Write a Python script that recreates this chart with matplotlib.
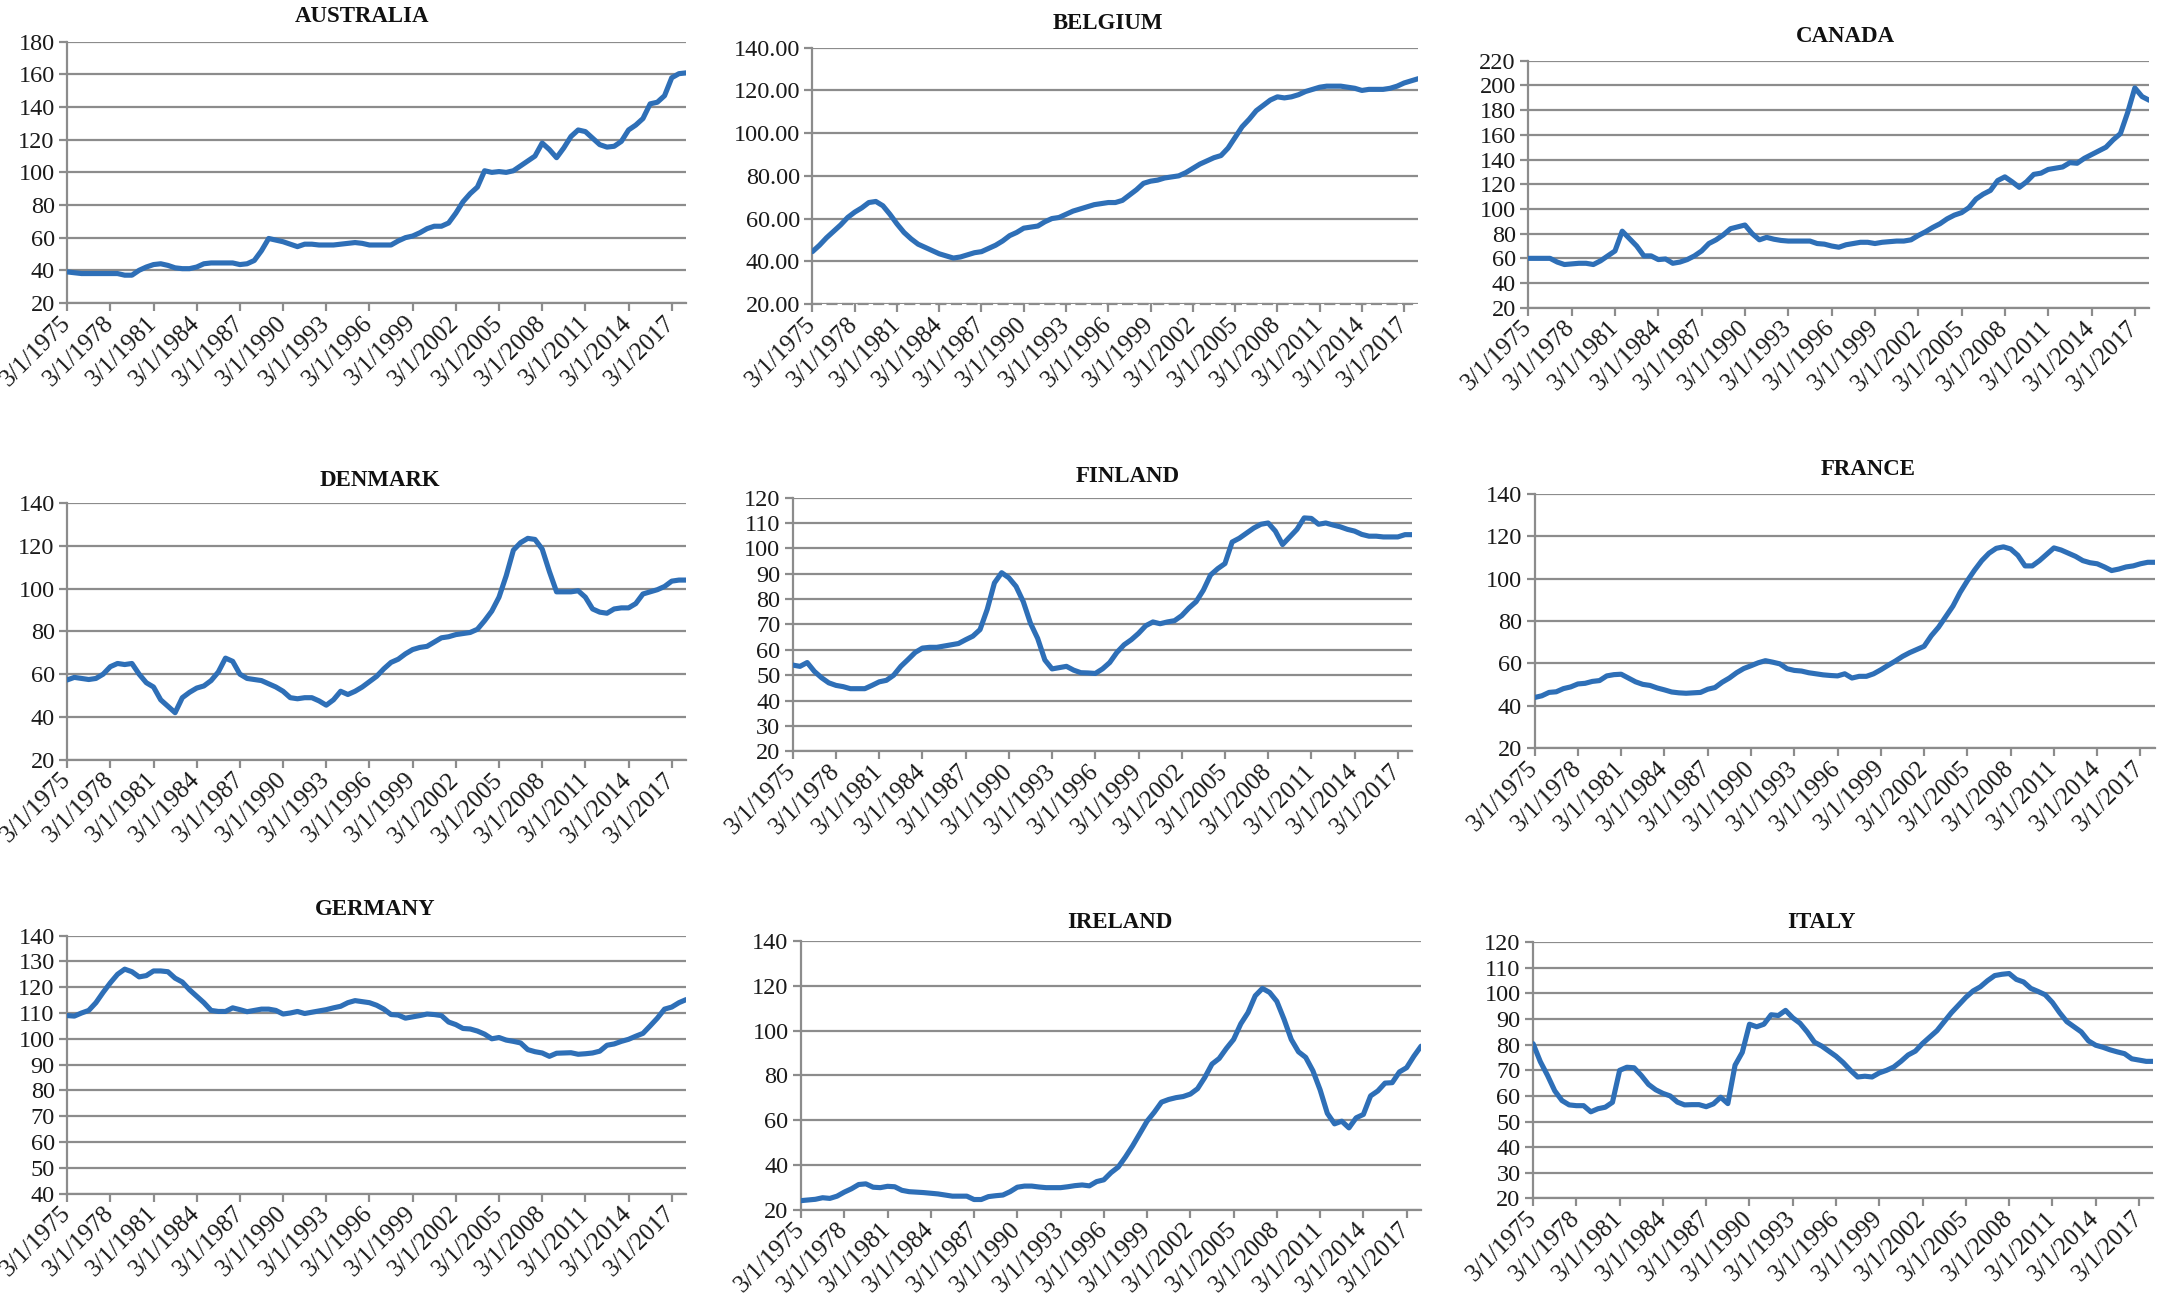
import matplotlib.pyplot as plt
import numpy as np

plt.rcParams['font.family'] = ['Liberation Serif', 'DejaVu Serif']

# semi-annual readings (March / September) from 1975 to March 2018
half_years = np.arange(1975, 2018.01, 0.5)

australia = [39, 38.5, 38, 38, 38, 38, 38, 38, 37, 37,
             40, 42, 43.5, 44, 43, 41.5, 41, 41, 42, 44,
             44.5, 44.5, 44.5, 44.5, 43.5, 44, 46, 52, 59.5, 58.5,
             57.5, 56, 54.5, 56, 56, 55.5, 55.5, 55.5, 56, 56.5,
             57, 56.5, 55.5, 55.5, 55.5, 55.5, 58, 60, 61, 63,
             65.5, 67, 67, 69, 75, 82, 87, 91, 101, 100,
             100.5, 100, 101, 104, 107, 110, 118, 114, 109, 115,
             122, 126, 125, 121, 117, 115.5, 116, 119, 126, 129,
             133, 142, 143, 147, 158, 160.5, 161]

belgium = [44.5, 47.5, 51, 54, 57, 60.5, 63, 65, 67.5, 68,
           66, 62, 57.5, 53.5, 50.5, 48, 46.5, 45, 43.5, 42.5,
           41.5, 42, 43, 44, 44.5, 46, 47.5, 49.5, 52, 53.5,
           55.5, 56, 56.5, 58.5, 60, 60.5, 62, 63.5, 64.5, 65.5,
           66.5, 67, 67.5, 67.5, 68.5, 71, 73.5, 76.5, 77.5, 78,
           79, 79.5, 80, 81.5, 83.5, 85.5, 87, 88.5, 89.5, 93,
           98, 103, 106.5, 110.5, 113, 115.5, 117, 116.5, 117, 118,
           119.5, 120.5, 121.5, 122, 122, 122, 121.5, 121, 120, 120.5,
           120.5, 120.5, 121, 122, 123.5, 124.5, 125.5]

canada = [60, 60, 60, 60, 57, 55, 55.5, 56, 56, 55,
          58, 62, 66, 82, 76, 70, 62, 62, 59, 59.5,
          56, 57, 59, 62, 66, 72, 75, 79, 84, 85.5,
          87, 80, 75, 77, 75.5, 74.5, 74, 74, 74, 74,
          72, 71.5, 70, 69, 71, 72, 73, 73, 72, 73,
          73.5, 74, 74, 75, 78.5, 81.5, 85, 88, 92, 95,
          97, 101, 108, 112, 115, 123, 126, 122, 117.5, 122,
          128, 129, 132, 133, 134, 137.5, 137, 141, 144, 147,
          150, 156, 161, 178, 198, 191, 188]

denmark = [57.3, 58.5, 58, 57.5, 58, 60, 63.5, 65, 64.5, 65,
           60, 56, 54, 48, 45, 42, 49, 51.5, 53.5, 54.5,
           57, 61, 67.5, 66, 60, 58, 57.5, 57, 55.5, 54,
           52, 49, 48.5, 49, 49, 47.5, 45.5, 48, 52, 50.5,
           52, 54, 56.5, 59, 62.5, 65.5, 67, 69.5, 71.5, 72.5,
           73, 75, 77, 77.5, 78.5, 79, 79.5, 81, 85, 89.5,
           96, 106, 118, 121.5, 123.5, 123, 118.5, 108, 98.5, 98.5,
           98.5, 99, 96, 90.5, 89, 88.5, 90.5, 91, 91, 93,
           97.5, 98.5, 99.5, 101, 103.5, 104, 104]

finland = [54, 53.5, 55, 51.5, 49, 47, 46, 45.5, 44.7, 44.7,
           44.7, 46, 47.4, 48, 50, 53.5, 56.2, 59, 60.7, 61,
           61, 61.5, 62, 62.5, 64, 65.4, 68, 76, 86.4, 90.4,
           88.4, 85, 79, 70.5, 64.5, 56, 52.5, 53, 53.5, 52,
           51, 50.9, 50.7, 52.5, 55, 59, 62, 64, 66.5, 69.5,
           71, 70.3, 71, 71.5, 73.5, 76.5, 79, 83.5, 89.5, 92,
           94, 102.5, 104, 106, 108, 109.5, 110, 106.8, 101.5, 104.5,
           107.5, 112, 111.8, 109.5, 110, 109.2, 108.5, 107.5, 106.8, 105.5,
           104.8, 104.8, 104.5, 104.5, 104.5, 105.4, 105.4]

france = [43.8, 44.6, 46.2, 46.5, 48, 48.8, 50.2, 50.5, 51.4, 51.8,
          54, 54.6, 54.8, 53, 51.2, 50, 49.5, 48.3, 47.4, 46.4,
          46, 45.8, 46, 46.2, 47.7, 48.5, 51, 53, 55.5, 57.5,
          58.8, 60.2, 61.2, 60.5, 59.7, 57.4, 56.6, 56.3, 55.5, 55,
          54.5, 54.2, 54, 55, 53, 53.8, 53.8, 55, 56.9, 59,
          61, 63.2, 65, 66.5, 68, 73, 77, 82, 87, 93.5,
          99, 104, 108.5, 112, 114.3, 115, 114, 111, 106, 106,
          108.5, 111.5, 114.5, 113.5, 112, 110.5, 108.5, 107.5, 107, 105.5,
          103.8, 104.5, 105.5, 106, 107, 107.7, 107.7]

germany = [109, 108.8, 110, 111, 114, 118, 121.7, 125, 127, 126,
           124, 124.5, 126.3, 126.3, 126, 123.5, 122, 119, 116.5, 114,
           111, 110.6, 110.6, 112, 111.3, 110.5, 111, 111.5, 111.5, 111,
           109.6, 110, 110.6, 109.8, 110.3, 110.8, 111.3, 112, 112.6, 114,
           114.8, 114.4, 114, 113, 111.5, 109.4, 109.2, 108, 108.5, 109,
           109.6, 109.4, 109, 106.5, 105.5, 104, 103.8, 103, 101.8, 100,
           100.5, 99.5, 99, 98.4, 95.8, 95, 94.5, 93.2, 94.4, 94.5,
           94.6, 94, 94.2, 94.5, 95.2, 97.5, 98, 99, 99.8, 101,
           102.1, 105, 108, 111.5, 112.3, 114, 115.2]

ireland = [24, 24.3, 24.6, 25.3, 25, 26, 27.8, 29.3, 31.2, 31.5,
           30, 29.8, 30.4, 30.2, 28.6, 28, 27.8, 27.6, 27.3, 27,
           26.5, 26, 26, 26, 24.5, 24.5, 25.8, 26.2, 26.5, 28,
           30, 30.5, 30.5, 30.1, 29.8, 29.8, 29.8, 30.2, 30.7, 31,
           30.6, 32.5, 33.3, 36.5, 39, 43.5, 48.5, 54, 59.5, 63.5,
           68, 69.2, 70, 70.5, 71.6, 74, 79, 85, 87.5, 92,
           96, 103, 108, 115.5, 118.8, 117, 113, 105, 96, 90.5,
           88, 82, 73.5, 63, 58.3, 59.5, 56.5, 61, 62.5, 70.8,
           73, 76.5, 76.7, 81.5, 83.4, 88.5, 93]

italy = [80.4, 73.4, 68, 62, 58.2, 56.5, 56.2, 56.2, 53.8, 55,
         55.6, 57.5, 70, 71.2, 71, 68, 64.5, 62.4, 61, 60,
         57.6, 56.5, 56.6, 56.6, 55.8, 56.9, 59.5, 57, 72, 77,
         88, 87, 88, 91.7, 91.4, 93.4, 90.5, 88.4, 85, 81,
         79.5, 77.5, 75.5, 73, 70, 67.4, 67.7, 67.4, 69, 70,
         71.3, 73.5, 76, 77.5, 80.5, 83, 85.5, 89, 92.5, 95.5,
         98.5, 101, 102.6, 105, 107, 107.5, 107.8, 105.5, 104.5, 102,
         100.8, 99.5, 96.5, 92.5, 89, 87, 85, 81.5, 79.8, 79,
         78, 77.2, 76.5, 74.5, 74, 73.5, 73.5]

tick_years = list(range(1975, 2018, 3))
tick_labels = ['3/1/%d' % y for y in tick_years]

# name, values, y range, y step, axes rect, title position
panels = [
    ('AUSTRALIA', australia, 20, 180, 20, [0.0311, 0.7677, 0.2867, 0.2002], (0.1677, 0.9873)),
    ('BELGIUM', belgium, 20, 140, 20, [0.3763, 0.7669, 0.2806, 0.1965], (0.5132, 0.9816)),
    ('CANADA', canada, 20, 220, 20, [0.7079, 0.7640, 0.2876, 0.1894], (0.8546, 0.9719)),
    ('DENMARK', denmark, 20, 140, 20, [0.0311, 0.4174, 0.2867, 0.1968], (0.1760, 0.6312)),
    ('FINLAND', finland, 20, 120, 10, [0.3672, 0.4238, 0.2869, 0.1946], (0.5223, 0.6349)),
    ('FRANCE', france, 20, 140, 20, [0.7108, 0.4265, 0.2873, 0.1947], (0.8654, 0.6396)),
    ('GERMANY', germany, 40, 140, 10, [0.0311, 0.0847, 0.2867, 0.1978], (0.1739, 0.3026)),
    ('IRELAND', ireland, 20, 140, 20, [0.3710, 0.0724, 0.2872, 0.2060], (0.5185, 0.2924)),
    ('ITALY', italy, 20, 120, 10, [0.7101, 0.0810, 0.2873, 0.1964], (0.8437, 0.2924)),
]

line_color = '#2E6FB7'
grid_color = '#8C8C8C'

fig = plt.figure(figsize=(21.59, 13.04), dpi=100)

for name, vals, ymin, ymax, ystep, rect, tpos in panels:
    ax = fig.add_axes(rect)
    # quarter index of every reading (0 = 1975Q1)
    xq = (half_years - 1975) * 4
    ax.plot(xq, vals, color=line_color, lw=3.7, solid_joinstyle='round',
            solid_capstyle='round', zorder=3)
    ax.set_xlim(0, xq[-1])
    ax.set_ylim(ymin, ymax)
    yt = np.arange(ymin, ymax + 0.1, ystep)
    ax.set_yticks(yt)
    if name == 'BELGIUM':
        ax.set_yticklabels(['%.2f' % v for v in yt])
    else:
        ax.set_yticklabels(['%d' % v for v in yt])
    ax.set_xticks([(y - 1975) * 4 for y in tick_years])
    ax.set_xticklabels(tick_labels, rotation=45, ha='right', va='center',
                       rotation_mode='anchor')
    ax.yaxis.grid(True, color=grid_color, lw=1.6)
    ax.set_axisbelow(True)
    for s in ['top', 'right']:
        ax.spines[s].set_visible(False)
    ax.spines['left'].set_color(grid_color)
    ax.spines['left'].set_linewidth(1.6)
    ax.spines['bottom'].set_color(grid_color)
    ax.spines['bottom'].set_linewidth(1.6)
    if name == 'BELGIUM':
        ax.spines['bottom'].set_linestyle((0, (4, 3)))
    ax.tick_params(axis='both', colors=grid_color, width=1.6, length=6,
                   labelcolor='#1a1a1a', labelsize=17.5)
    ax.tick_params(axis='x', pad=6, labelsize=18)
    ax.tick_params(axis='y', pad=3)
    fig.text(tpos[0], tpos[1], name, ha='center', va='center',
             fontsize=16.5, fontweight='bold', color='#111111')

fig.savefig('out.png', dpi=100, facecolor='white')
